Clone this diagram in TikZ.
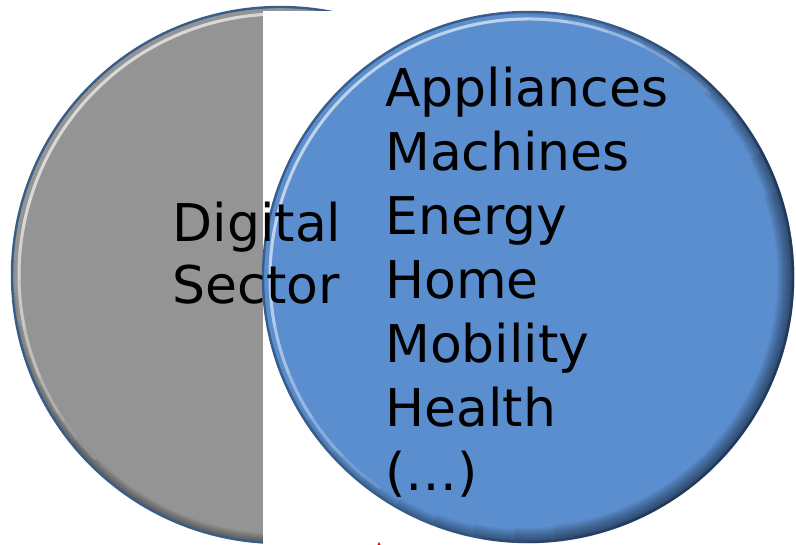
\documentclass[tikz,border=0pt]{standalone}
\usepackage{fontspec}
\newfontfamily\verdana{DejaVu Sans}
\usepackage{xcolor}
\usetikzlibrary{positioning}
\definecolor{sectorgray}{RGB}{148,148,148}
\definecolor{fieldblue}{RGB}{91,142,207}
\definecolor{rimblue}{RGB}{56,93,138}
\definecolor{rimdark}{RGB}{24,40,66}

\tikzset{
  bigtext/.style={font=\verdana\fontsize{52}{62}\selectfont, anchor=base west, inner sep=0pt},
  rim/.style={draw=rimblue, line width=2.4pt},
}

\begin{document}
\begin{tikzpicture}[x=1pt,y=1pt]
    \useasboundingbox (0,0) rectangle (796,545);

    % Gray circle (Digital Sector)
    \coordinate (gc) at (280,270);
    \fill[sectorgray] (gc) circle (268);
    \begin{scope}
        \clip (gc) circle (268);
        % soft bevel: light rim top-left, dark rim bottom-right
        \foreach \k [evaluate=\k as \sa using 40+9*\k, evaluate=\k as \ea using 225-11*\k] in {0,...,5}
            \draw[white, line width=3pt, opacity=0.16] (gc) ++(\sa:261) arc[start angle=\sa, end angle=\ea, radius=261];
        \foreach \k [evaluate=\k as \sa using 170+7*\k, evaluate=\k as \ea using 330-7*\k, evaluate=\k as \w using 3+2.2*\k] in {0,...,7}
            \draw[black, line width=\w pt, opacity=0.05] (gc) ++(\sa:268) arc[start angle=\sa, end angle=\ea, radius=268];
    \end{scope}
    \draw[rim] (gc) circle (268);

    % White band that hides the right half of the gray circle
    \fill[white] (263,534) rectangle (800,-5);

    % Blue circle (application fields)
    \coordinate (bc) at (528,268);
    \fill[fieldblue] (bc) circle (265);
    \begin{scope}
        \clip (bc) circle (265);
        \foreach \k [evaluate=\k as \sa using 45+9*\k, evaluate=\k as \ea using 235-11*\k] in {0,...,5}
            \draw[white, line width=3pt, opacity=0.15] (bc) ++(\sa:258) arc[start angle=\sa, end angle=\ea, radius=258];
        \foreach \k [evaluate=\k as \sa using -165+9*\k, evaluate=\k as \ea using 100-9*\k, evaluate=\k as \w using 4+3*\k] in {0,...,9}
            \draw[black, line width=\w pt, opacity=0.055] (bc) ++(\sa:265) arc[start angle=\sa, end angle=\ea, radius=265];
    \end{scope}
    \draw[rim] (bc) circle (265);
    \foreach \k [evaluate=\k as \sa using -110+10*\k, evaluate=\k as \ea using 70-10*\k] in {0,...,4}
        \draw[rimdark, line width=2.4pt, opacity=0.18] (bc) ++(\sa:265) arc[start angle=\sa, end angle=\ea, radius=265];

    % Labels
    \node[bigtext] (digital) at (172.5,303) {Digital};
    \node[bigtext] (sector) at (172.5,241) {Sector};

    \foreach \name [count=\i from 0] in {Appliances,Machines,Energy,Home,Mobility,Health,(\dots)}
        \node[bigtext] (field\i) at (385,438-64*\i) {\name};

    % tiny red mark at the bottom edge
    \fill[red] (377.5,0) -- (380.5,0) -- (379,3) -- cycle;
\end{tikzpicture}
\end{document}
